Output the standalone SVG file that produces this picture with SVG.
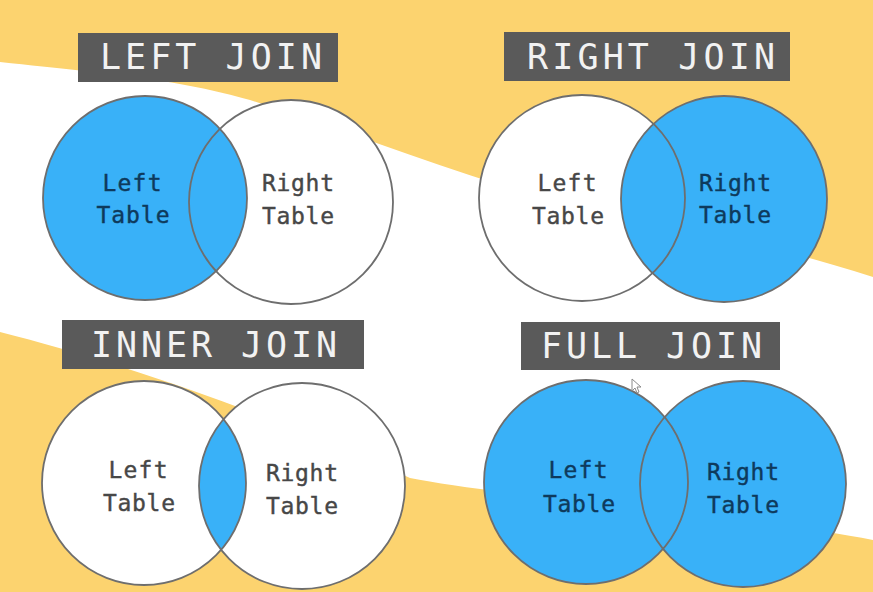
<svg xmlns="http://www.w3.org/2000/svg" width="873" height="592" viewBox="0 0 873 592">
  <style>
    .band { fill: #FCD36F; }
    .title-box { fill: #5A5A5A; }
    .title { font-family: "DejaVu Sans Mono", "Liberation Mono", monospace; font-size: 35px; fill: #F2F2F2; }
    .outline { fill: none; stroke: #6E6E6E; stroke-width: 1.8; }
    .on { fill: #39B1F8; }
    .off { fill: #FFFFFF; }
    .label { font-family: "DejaVu Sans Mono", "Liberation Mono", monospace; font-size: 23px; text-anchor: middle; stroke-width: 0.4; }
    .label-on { fill: #0E3A5C; stroke: #0E3A5C; }
    .label-off { fill: #474747; stroke: #474747; }
    .pointer { fill: #FFFFFF; stroke: #8A8A8A; stroke-width: 1; }
  </style>
  <defs>
    <clipPath id="clip-inner-left">
      <circle cx="144" cy="483" r="102"/>
    </clipPath>
  </defs>

  <!-- backdrop: white page with two yellow swooshes -->
  <g id="background">
    <rect x="0" y="0" width="873" height="592" fill="#FFFFFF"/>
    <path class="band" d="M0,0 H873 V277 C760,240 620,215 500,185 C420,160 330,125 250,100 C180,80 120,75 0,62 Z"/>
    <path class="band" d="M0,332 C120,362 280,418 410,478 C500,496 760,518 873,540 V592 H0 Z"/>
  </g>

  <!-- LEFT JOIN -->
  <g id="left-join">
    <g id="left-join-title">
      <rect class="title-box" x="78" y="33" width="260" height="49"/>
      <text class="title" x="100" y="69" textLength="222" lengthAdjust="spacing">LEFT JOIN</text>
    </g>
    <g id="left-join-right-table">
      <circle class="off" cx="291" cy="202" r="102"/>
    </g>
    <g id="left-join-left-table">
      <circle class="on" cx="145" cy="198" r="102"/>
    </g>
    <circle class="outline" cx="291" cy="202" r="102"/>
    <circle class="outline" cx="145" cy="198" r="102"/>
    <text class="label label-on" x="132" y="191" textLength="59" lengthAdjust="spacing">Left</text>
    <text class="label label-on" x="133" y="223" textLength="73" lengthAdjust="spacing">Table</text>
    <text class="label label-off" x="298" y="191" textLength="72" lengthAdjust="spacing">Right</text>
    <text class="label label-off" x="298" y="224" textLength="72" lengthAdjust="spacing">Table</text>
  </g>

  <!-- RIGHT JOIN -->
  <g id="right-join">
    <g id="right-join-title">
      <rect class="title-box" x="504" y="32" width="286" height="49"/>
      <text class="title" x="527" y="69" textLength="248" lengthAdjust="spacing">RIGHT JOIN</text>
    </g>
    <g id="right-join-left-table">
      <circle class="off" cx="582" cy="198" r="103"/>
    </g>
    <g id="right-join-right-table">
      <circle class="on" cx="724" cy="199" r="103"/>
    </g>
    <circle class="outline" cx="582" cy="198" r="103"/>
    <circle class="outline" cx="724" cy="199" r="103"/>
    <text class="label label-off" x="567" y="191" textLength="59" lengthAdjust="spacing">Left</text>
    <text class="label label-off" x="568" y="224" textLength="72" lengthAdjust="spacing">Table</text>
    <text class="label label-on" x="735" y="191" textLength="72" lengthAdjust="spacing">Right</text>
    <text class="label label-on" x="735" y="223" textLength="72" lengthAdjust="spacing">Table</text>
  </g>

  <!-- INNER JOIN -->
  <g id="inner-join">
    <g id="inner-join-title">
      <rect class="title-box" x="62" y="320" width="302" height="49"/>
      <text class="title" x="91" y="357" textLength="246" lengthAdjust="spacing">INNER JOIN</text>
    </g>
    <g id="inner-join-left-table">
      <circle class="off" cx="144" cy="483" r="102"/>
    </g>
    <g id="inner-join-right-table">
      <circle class="off" cx="302" cy="486" r="103"/>
    </g>
    <!-- shared rows: the lens where both sets overlap -->
    <circle class="on" cx="302" cy="486" r="103" clip-path="url(#clip-inner-left)"/>
    <circle class="outline" cx="144" cy="483" r="102"/>
    <circle class="outline" cx="302" cy="486" r="103"/>
    <text class="label label-off" x="138" y="478" textLength="59" lengthAdjust="spacing">Left</text>
    <text class="label label-off" x="139" y="511" textLength="72" lengthAdjust="spacing">Table</text>
    <text class="label label-off" x="302" y="481" textLength="72" lengthAdjust="spacing">Right</text>
    <text class="label label-off" x="302" y="514" textLength="72" lengthAdjust="spacing">Table</text>
  </g>

  <!-- FULL JOIN -->
  <g id="full-join">
    <g id="full-join-title">
      <rect class="title-box" x="521" y="322" width="259" height="48"/>
      <text class="title" x="541" y="358" textLength="221" lengthAdjust="spacing">FULL JOIN</text>
    </g>
    <g id="full-join-left-table">
      <circle class="on" cx="586" cy="482" r="102"/>
    </g>
    <g id="full-join-right-table">
      <circle class="on" cx="743" cy="484" r="103"/>
    </g>
    <circle class="outline" cx="586" cy="482" r="102"/>
    <circle class="outline" cx="743" cy="484" r="103"/>
    <text class="label label-on" x="578" y="478" textLength="59" lengthAdjust="spacing">Left</text>
    <text class="label label-on" x="579" y="512" textLength="72" lengthAdjust="spacing">Table</text>
    <text class="label label-on" x="743" y="480" textLength="72" lengthAdjust="spacing">Right</text>
    <text class="label label-on" x="743" y="513" textLength="72" lengthAdjust="spacing">Table</text>
  </g>

  <!-- mouse pointer -->
  <polygon class="pointer" points="632,379 632,391 635,388 637,393 639,392 637,387 641,387"/>

  <!-- connectors: none in this figure -->
  <g id="connectors"/>
</svg>
